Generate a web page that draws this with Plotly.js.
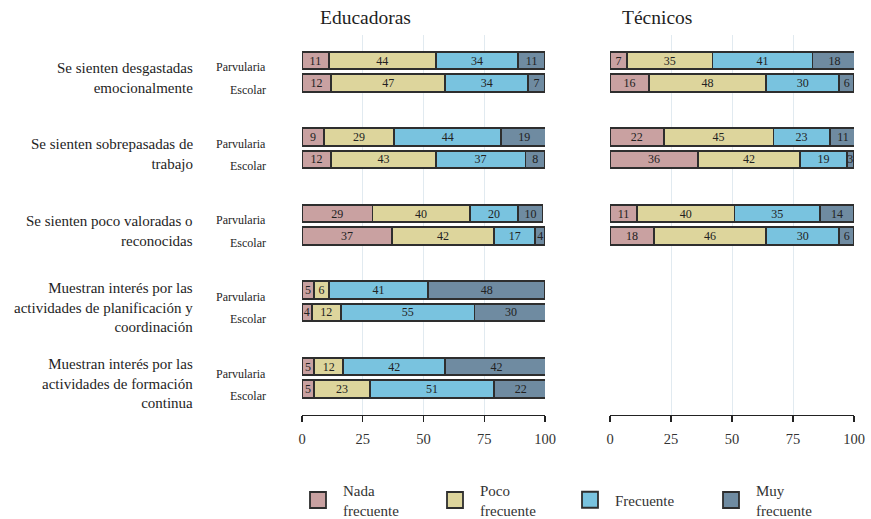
<!DOCTYPE html>
<html>
<head>
<meta charset="utf-8">
<script src="https://cdn.plot.ly/plotly-3.0.1.min.js"></script>
<style>html,body{margin:0;padding:0;background:#fff;overflow:hidden;}</style>
</head>
<body>
<div id="chart" style="width:871px;height:519px;"></div>
<script>
// ---- data ----
const categories = [
  "Se sienten desgastadas<br>emocionalmente",
  "Se sienten sobrepasadas de<br>trabajo",
  "Se sienten poco valoradas o<br>reconocidas",
  "Muestran interés por las<br>actividades de planificación y<br>coordinación",
  "Muestran interés por las<br>actividades de formación<br>continua"
];
const subgroups = ["Parvularia", "Escolar"];
const levels = ["Nada<br>frecuente", "Poco<br>frecuente", "Frecuente", "Muy<br>frecuente"];
const panels = ["Educadoras", "Técnicos"];

// order: cat1 Parvularia, cat1 Escolar, cat2 Parvularia, ...
const eduNada = [11, 12, 9, 12, 29, 37, 5, 4, 5, 5];
const eduPoco = [44, 47, 29, 43, 40, 42, 6, 12, 12, 23];
const eduFrec = [34, 34, 44, 37, 20, 17, 41, 55, 42, 51];
const eduMuy  = [11, 7, 19, 8, 10, 4, 48, 30, 42, 22];

const tecNada = [7, 16, 22, 36, 11, 18];
const tecPoco = [35, 48, 45, 42, 40, 46];
const tecFrec = [41, 30, 23, 19, 35, 30];
const tecMuy  = [18, 6, 11, 3, 14, 6];

const xTicks = [0, 25, 50, 75, 100];

// ---- styling ----
const colors = ["#c9a1a1", "#ddd59c", "#79c3df", "#6f8ba1"];
const outline = "#2e2e2e";
const serif = "Liberation Serif";
const subGap = 0.294;
const legendX = [293, 430, 565, 706];

function yPos(n) {
  const out = [];
  for (let i = 0; i < n; i++) out.push(Math.floor(i / 2) + (i % 2) * subGap);
  return out;
}

const eduSeries = [eduNada, eduPoco, eduFrec, eduMuy];
const tecSeries = [tecNada, tecPoco, tecFrec, tecMuy];

const traces = [];
function addPanel(series, xa, ya) {
  series.forEach((vals, li) => {
    traces.push({
      type: "bar",
      orientation: "h",
      x: vals,
      y: yPos(vals.length),
      xaxis: xa, yaxis: ya,
      width: 0.229,
      text: vals.map(String),
      textposition: "inside",
      insidetextanchor: "middle",
      textangle: 0,
      textfont: {family: serif, size: 12, color: "#222"},
      marker: {color: colors[li], line: {color: outline, width: 1.8}},
      showlegend: false,
      hoverinfo: "skip"
    });
  });
}
addPanel(eduSeries, "x", "y");
addPanel(tecSeries, "x2", "y2");

// legend entries (one legend per level so each can be placed)
const legendNames = ["legend", "legend2", "legend3", "legend4"];
levels.forEach((lv, li) => {
  traces.push({
    type: "scatter", mode: "markers",
    x: [null], y: [null], xaxis: "x", yaxis: "y",
    name: lv, legend: legendNames[li],
    marker: {symbol: "square", size: 22, color: colors[li], line: {color: outline, width: 1.8}},
    showlegend: true, hoverinfo: "skip"
  });
});

const annotations = [];
categories.forEach((c, g) => {
  annotations.push({
    xref: "paper", yref: "y", x: 195 / 871, y: g + subGap / 2,
    xanchor: "right", yanchor: "middle", align: "right",
    text: c, showarrow: false, yshift: -6,
    font: {family: serif, size: 15, color: "#1e1e1e"}
  });
  subgroups.forEach((s, k) => {
    annotations.push({
      xref: "paper", yref: "y", x: 268 / 871, y: g + k * subGap,
      xanchor: "right", yanchor: "middle",
      text: s, showarrow: false, yshift: -7,
      font: {family: serif, size: 12, color: "#1e1e1e"}
    });
  });
});
[[318, panels[0]], [620, panels[1]]].forEach(([px, t]) => {
  annotations.push({
    xref: "paper", yref: "paper", x: px / 871, y: 1 - 18 / 519,
    xanchor: "left", yanchor: "middle", text: t, showarrow: false,
    font: {family: serif, size: 19.5, color: "#1e1e1e"}
  });
});

const xCommon = {
  range: [0, 100], tickvals: xTicks, showgrid: true, gridcolor: "#e1eaf0", gridwidth: 1,
  zeroline: false, showline: true, linecolor: "#222", linewidth: 1.2,
  ticks: "outside", ticklen: 6, tickcolor: "#222", tickwidth: 1.2, ticklabelstandoff: 4,
  tickfont: {family: serif, size: 14.5, color: "#333"}, fixedrange: true, automargin: false
};
const yCommon = {
  domain: [1 - 415 / 519, 1 - 35 / 519],
  range: [(415 - 60.5) / 76.5, (35 - 60.5) / 76.5],
  showticklabels: false, showgrid: false, zeroline: false, showline: false, fixedrange: true,
  automargin: false
};

const layout = {
  width: 871, height: 519,
  margin: {l: 0, r: 0, t: 0, b: 0, autoexpand: false},
  paper_bgcolor: "#fff", plot_bgcolor: "#fff",
  barmode: "stack", bargap: 0,
  uniformtext: {minsize: 12, mode: "show"},
  xaxis: Object.assign({}, xCommon, {domain: [302 / 871, 545 / 871], anchor: "y"}),
  xaxis2: Object.assign({}, xCommon, {domain: [610 / 871, 854 / 871], anchor: "y2"}),
  yaxis: Object.assign({}, yCommon, {anchor: "x"}),
  yaxis2: Object.assign({}, yCommon, {anchor: "x2"}),
  showlegend: true,
  annotations: annotations
};
legendNames.forEach((ln, li) => {
  layout[ln] = {
    orientation: "h", x: legendX[li] / 871, xanchor: "left",
    y: 1 - 500 / 519, yanchor: "middle",
    font: {family: serif, size: 15, color: "#333"},
    itemwidth: 40, bgcolor: "rgba(0,0,0,0)", valign: "middle"
  };
});

Plotly.newPlot("chart", traces, layout, {displayModeBar: false, staticPlot: true});
</script>
</body>
</html>
